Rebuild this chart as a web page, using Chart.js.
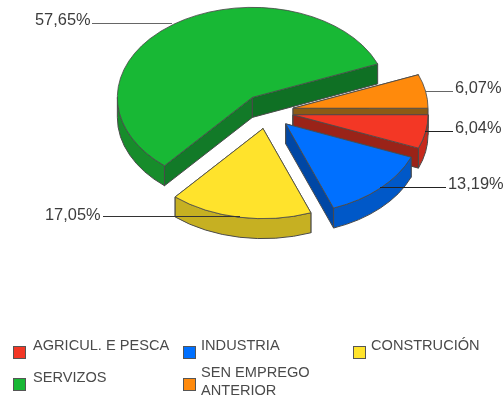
<!DOCTYPE html>
<html>
<head>
<meta charset="utf-8">
<style>html,body{margin:0;padding:0;background:#fff}canvas{display:block}</style>
<script src="https://cdn.jsdelivr.net/npm/chart.js@4/dist/chart.umd.min.js"></script>
</head>
<body>
<canvas id="c" width="504" height="401"></canvas>
<script>
const categories = ['AGRICUL. E PESCA', 'INDUSTRIA', 'CONSTRUCIÓN', 'SERVIZOS', 'SEN EMPREGO ANTERIOR'];
const values = [6.04, 13.19, 17.05, 57.65, 6.07];
const topColors = ['#f33725', '#0070ff', '#ffe32c', '#18b835', '#ff8a0c'];
const wallColors = ['#c7291c', '#0058c8', '#c6b022', '#178c2b', '#b06a10'];
const startCutColors = ['#9a2318', '#0047a5', '#a8961c', '#127a28', '#8b5a15'];
const endCutColors = ['#9a2318', '#0047a5', '#a8961c', '#0f7024', '#8b5a15'];
const paintOrder = [3, 4, 0, 1, 2];

const tilt = 0.667, depth = 20, explode = 26, pieRadius = 135;
const edgeColor = '#4a4a4a';
const leaderLayout = [
  {x1: 425, x2: 453, y: 131, color: '#222', tx: 455, ty: 128.5},
  {x1: 380, x2: 446, y: 187, color: '#222', tx: 448, ty: 184.5},
  {x1: 240, x2: 103, y: 216, color: '#333', tx: 45, ty: 215},
  {x1: 172, x2: 92, y: 23, color: '#666', tx: 35, ty: 20.5},
  {x1: 425, x2: 453, y: 91, color: '#666', tx: 455, ty: 88.5}
];
const legendLayout = [
  {sx: 13, sy: 346, tx: 33, ty: 346},
  {sx: 183, sy: 346, tx: 201, ty: 346},
  {sx: 353, sy: 346, tx: 371, ty: 345.5},
  {sx: 13, sy: 378, tx: 33, ty: 378},
  {sx: 183, sy: 378, tx: 201, ty: 372.5}
];

const pie3d = {
  id: 'pie3d',
  beforeDatasetDraw(chart) {
    const ctx = chart.ctx;
    const arcs = chart.getDatasetMeta(0).data;
    paintOrder.forEach(i => {
      const a = arcs[i];
      const s = a.startAngle, e = a.endAngle, r = a.outerRadius, mid = (s + e) / 2;
      const d = depth / tilt;
      ctx.save();
      ctx.translate(a.x, a.y);
      ctx.scale(1, tilt);
      ctx.translate(Math.cos(mid) * explode, Math.sin(mid) * explode);
      const m = ctx.getTransform();
      const cut = (ang, col) => {
        ctx.beginPath();
        ctx.moveTo(0, 0);
        ctx.lineTo(Math.cos(ang) * r, Math.sin(ang) * r);
        ctx.lineTo(Math.cos(ang) * r, Math.sin(ang) * r + d);
        ctx.lineTo(0, d);
        ctx.closePath();
        ctx.fillStyle = col;
        ctx.fill();
        ctx.setTransform(1, 0, 0, 1, 0, 0);
        ctx.lineWidth = 1;
        ctx.strokeStyle = edgeColor;
        ctx.stroke();
        ctx.setTransform(m);
      };
      cut(s, startCutColors[i]);
      cut(e, endCutColors[i]);
      const w0 = Math.max(s, 0), w1 = Math.min(e, Math.PI);
      if (w1 > w0) {
        ctx.beginPath();
        ctx.arc(0, 0, r, w0, w1);
        ctx.arc(0, d, r, w1, w0, true);
        ctx.closePath();
        ctx.fillStyle = wallColors[i];
        ctx.fill();
        ctx.setTransform(1, 0, 0, 1, 0, 0);
        ctx.lineWidth = 1;
        ctx.strokeStyle = edgeColor;
        ctx.stroke();
        ctx.setTransform(m);
      }
      ctx.translate(-a.x, -a.y);
      a.draw(ctx);
      ctx.restore();
    });
    return false;
  },
  afterDatasetsDraw(chart) {
    const ctx = chart.ctx;
    ctx.save();
    ctx.font = '16.4px "Liberation Sans", Arial, sans-serif';
    ctx.textBaseline = 'middle';
    ctx.textAlign = 'left';
    values.forEach((v, i) => {
      const l = leaderLayout[i];
      ctx.beginPath();
      ctx.moveTo(l.x1, l.y + 0.5);
      ctx.lineTo(l.x2, l.y + 0.5);
      ctx.strokeStyle = l.color;
      ctx.lineWidth = 1;
      ctx.stroke();
      ctx.fillStyle = '#3c3c3c';
      ctx.fillText(v.toFixed(2).replace('.', ',') + '%', l.tx, l.ty);
    });
    ctx.font = '14.6px "Liberation Sans", Arial, sans-serif';
    categories.forEach((name, i) => {
      const l = legendLayout[i];
      ctx.fillStyle = topColors[i];
      ctx.fillRect(l.sx, l.sy, 13, 13);
      ctx.strokeStyle = '#555';
      ctx.lineWidth = 1;
      ctx.strokeRect(l.sx + 0.5, l.sy + 0.5, 12, 12);
      ctx.fillStyle = '#4a4a4a';
      let lines = [name];
      if (ctx.measureText(name).width > 150) {
        const w = name.split(' ');
        lines = [w.slice(0, -1).join(' '), w[w.length - 1]];
      }
      lines.forEach((t, k) => ctx.fillText(t, l.tx, l.ty + k * 18));
    });
    ctx.restore();
  }
};

new Chart(document.getElementById('c'), {
  type: 'pie',
  data: {
    labels: categories,
    datasets: [{
      data: values,
      backgroundColor: topColors,
      borderColor: edgeColor,
      borderWidth: 1,
      radius: pieRadius
    }]
  },
  options: {
    responsive: false,
    animation: false,
    rotation: 90,
    events: [],
    layout: {padding: {left: 31, right: 0, top: 1, bottom: 179}},
    plugins: {legend: {display: false}, tooltip: {enabled: false}}
  },
  plugins: [pie3d]
});
</script>
</body>
</html>
